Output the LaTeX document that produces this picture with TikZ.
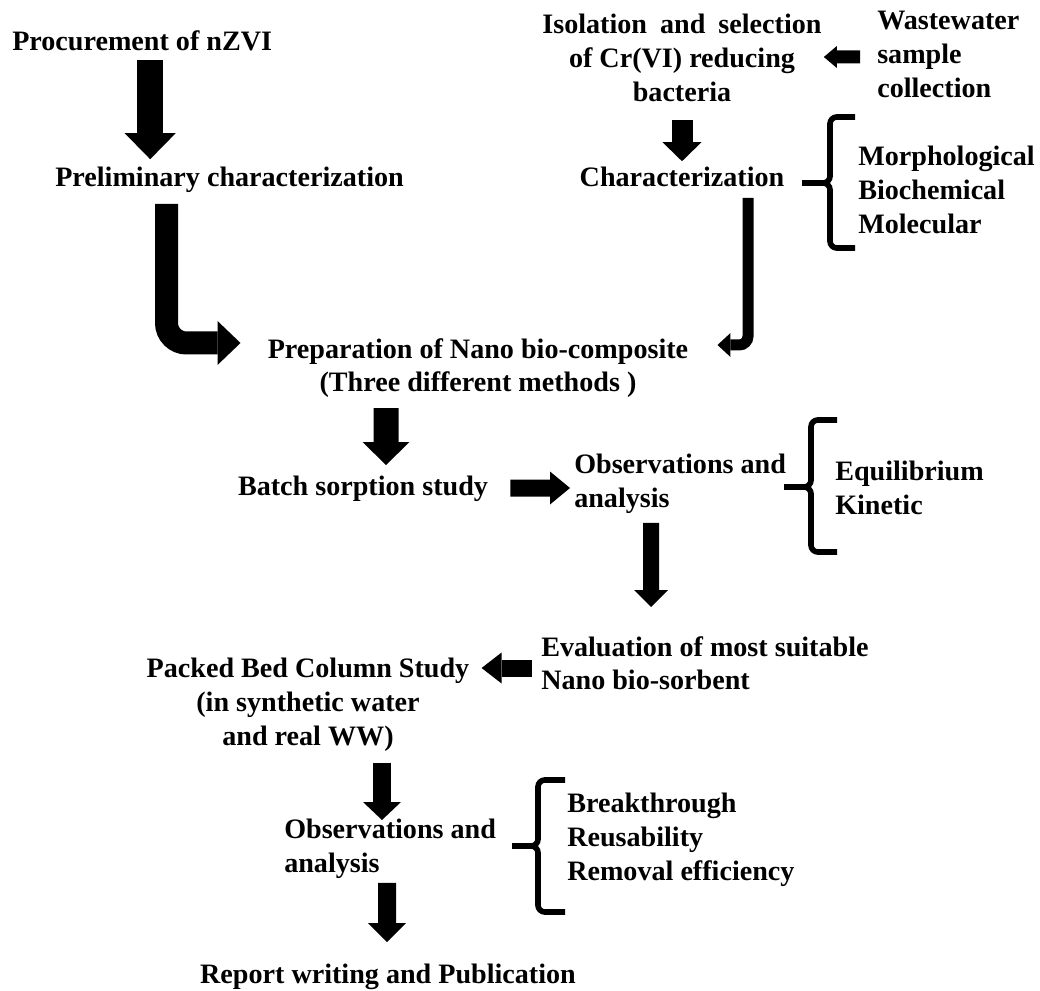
\documentclass[tikz,border=0pt]{standalone}
\usepackage{fontspec}
\setmainfont{Liberation Serif}
\usetikzlibrary{arrows.meta,calc,positioning}

\begin{document}
\begin{tikzpicture}[
    stage/.style={inner sep=0pt, font=\fontsize{20}{24}\selectfont\bfseries, align=center},
    sidelist/.style={inner sep=0pt, font=\fontsize{20}{24}\selectfont\bfseries, align=left},
    fat/.style n args={3}{line width=#1, -{Triangle[width=#2, length=#3, line width=0pt]}},
    brace/.style={line width=4pt, rounded corners=0.17cm}
]
    \useasboundingbox (0,0) rectangle (26,-24.775);

    % === Left column: nZVI ===
    \node[stage, anchor=base west] (proc) at (0.3,-1.275) {Procurement of nZVI};
    \node[stage, anchor=base west] (prelim) at (1.375,-4.675) {Preliminary characterization};

    % === Right column: bacteria ===
    \node[stage, anchor=north] (isol) at (17.05,-0.35) {Isolation\hspace{0.15cm} and\hspace{0.15cm} selection\\of Cr(VI) reducing\\bacteria};
    \node[sidelist, anchor=north west] (waste) at (21.925,-0.275) {Wastewater\\sample\\collection};
    \node[stage, anchor=base] (charz) at (17.05,-4.675) {Characterization};
    \node[sidelist, anchor=north west] (morph) at (21.45,-3.65) {Morphological\\Biochemical\\Molecular};

    % === Middle: composite and batch study ===
    \node[stage, anchor=north] (prep) at (11.95,-8.45) {Preparation of Nano bio-composite\\(Three different methods )};
    \node[stage, anchor=base] (batch) at (9.075,-12.375) {Batch sorption study};
    \node[sidelist, anchor=north west] (obsA) at (14.35,-11.35) {Observations and\\analysis};
    \node[sidelist, anchor=north west] (equil) at (20.875,-11.525) {Equilibrium\\Kinetic};

    % === Bottom: column study ===
    \node[sidelist, anchor=north west] (evalu) at (13.525,-15.9) {Evaluation of most suitable\\Nano bio-sorbent};
    \node[stage, anchor=north] (packed) at (7.7,-16.45) {Packed Bed Column Study\\(in synthetic water\\and real WW)};
    \node[sidelist, anchor=north west] (obsB) at (7.1,-20.475) {Observations and\\analysis};
    \node[sidelist, anchor=north west] (brk) at (14.175,-19.825) {Breakthrough\\Reusability\\Removal efficiency};
    \node[stage, anchor=base] (report) at (9.7,-24.575) {Report writing and Publication};

    % === Block arrows ===
    \draw[fat={0.65cm}{1.275cm}{0.65cm}] ($(proc.base)+(0.2,-0.22)$) -- ($(proc.base |- prelim.north)+(0.2,0.2)$);
    \draw[fat={0.575cm}{1.1cm}{0.575cm}, rounded corners=0.5cm] ($(prelim.base)+(-1.575,-0.425)$) |- ($(prep.north west)+(-0.675,-0.125)$);
    \draw[fat={0.325cm}{0.55cm}{0.325cm}] ($(waste.north west)+(-0.425,-1.15)$) -- ($(isol.north east)+(0.05,-1.075)$);
    \draw[fat={0.525cm}{0.975cm}{0.475cm}] ($(isol.south)+(0,-0.45)$) -- ($(charz.north)+(0,0.15)$);
    \draw[fat={0.275cm}{0.6cm}{0.325cm}, rounded corners=0.22cm] ($(charz.base)+(1.65,-0.275)$) |- ($(prep.north east)+(0.725,-0.175)$);
    \draw[fat={0.625cm}{1.175cm}{0.575cm}] ($(prep.south)+(-2.3,-0.25)$) -- ($(batch.base)+(0.575,0.75)$);
    \draw[fat={0.425cm}{0.825cm}{0.5cm}] ($(batch.base east)+(0.55,0.175)$) -- ($(obsA.north west)+(-0.1,-0.85)$);
    \draw[fat={0.4cm}{0.85cm}{0.425cm}] ($(obsA.south west)+(1.925,-0.225)$) -- ($(evalu.north west)+(2.75,0.725)$);
    \draw[fat={0.425cm}{0.775cm}{0.5cm}] ($(evalu.north west)+(-0.225,-0.8)$) -- ($(packed.north east)+(0.3,-0.25)$);
    \draw[fat={0.45cm}{0.95cm}{0.45cm}] ($(packed.south)+(1.85,-0.275)$) -- ($(obsB.north west)+(2.45,-0.025)$);
    \draw[fat={0.45cm}{0.95cm}{0.475cm}] ($(obsB.south west)+(2.575,-0.1)$) -- ($(report.base)+(-0.025,1.025)$);

    % === Braces ===
    \draw[brace] (21.375,-2.925) -| (20.75,-4.575) -- (20.05,-4.575);
    \draw[brace] (21.375,-6.2) -| (20.75,-4.575) -- (20.05,-4.575);
    \draw[brace] (20.925,-10.5) -| (20.275,-12.175) -- (19.6,-12.175);
    \draw[brace] (20.925,-13.8) -| (20.275,-12.175) -- (19.6,-12.175);
    \draw[brace] (14.125,-19.5) -| (13.45,-21.15) -- (12.8,-21.15);
    \draw[brace] (14.125,-22.8) -| (13.45,-21.15) -- (12.8,-21.15);
\end{tikzpicture}
\end{document}
